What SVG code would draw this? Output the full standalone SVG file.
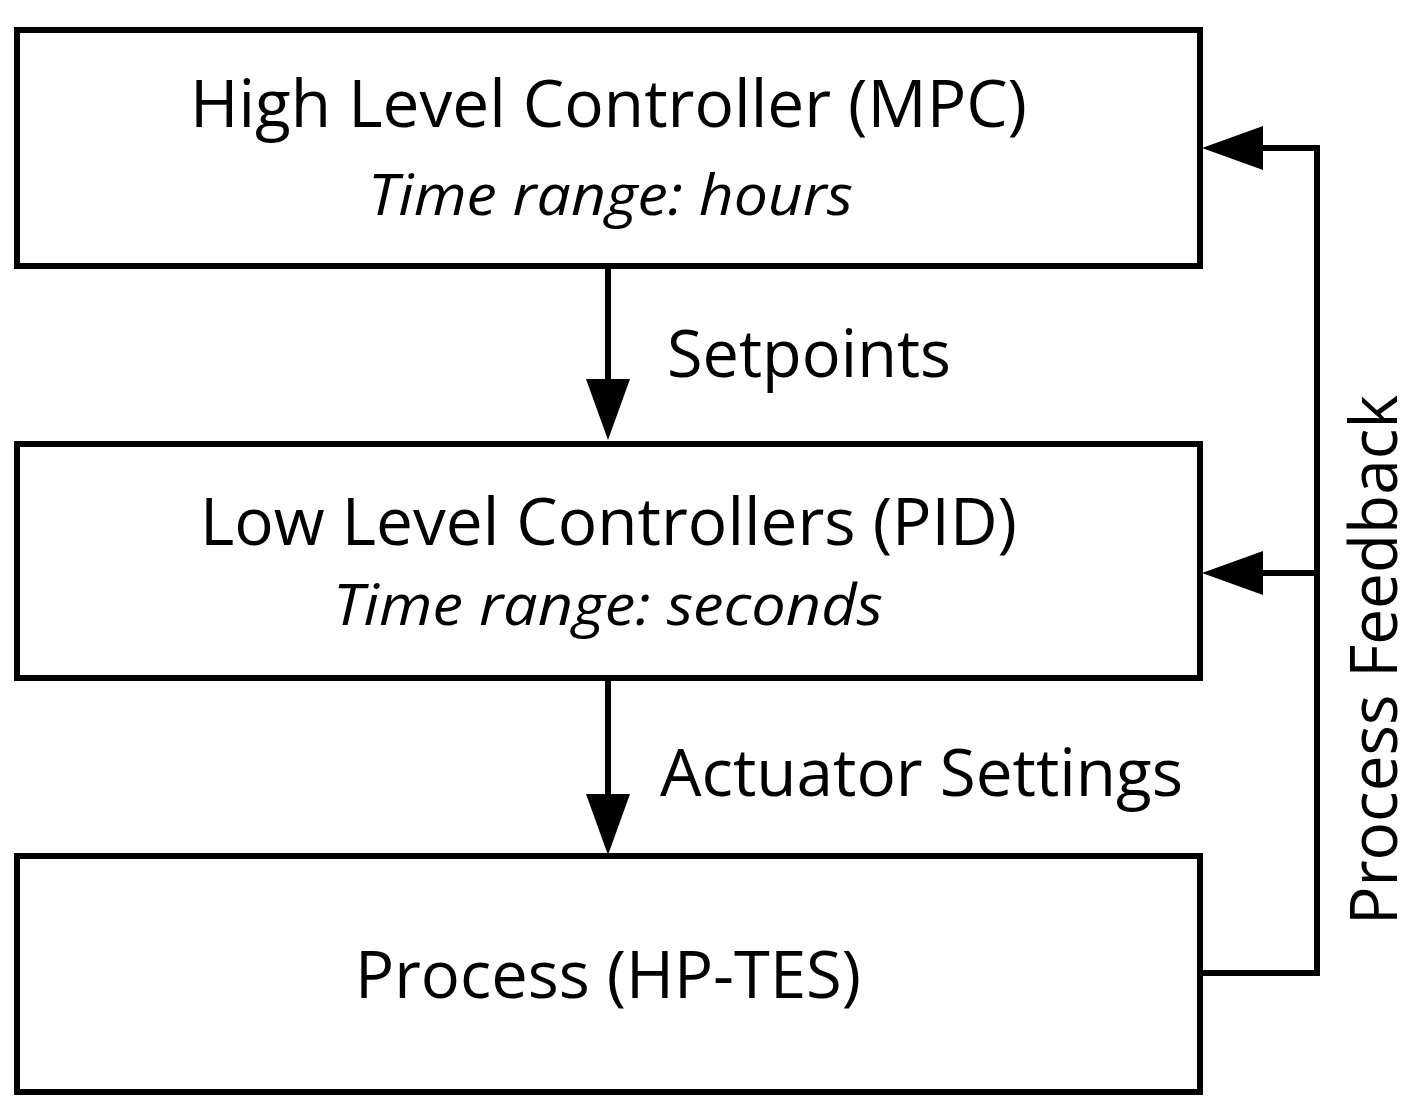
<svg xmlns="http://www.w3.org/2000/svg" width="1427" height="1112" viewBox="0 0 1427 1112">
<defs>
<style>
.box{fill:#fff;stroke:#000;stroke-width:6}
.conn{fill:none;stroke:#000;stroke-width:6;stroke-linejoin:miter}
.t{font-family:"Open Sans","Noto Sans","Liberation Sans",sans-serif;font-size:66px;fill:#000}
.i{font-family:"Open Sans","Noto Sans","Liberation Sans",sans-serif;font-size:56px;font-style:italic;fill:#000}
</style>
<marker id="ah" viewBox="0 0 61 44" refX="0" refY="22" markerWidth="61" markerHeight="44" markerUnits="userSpaceOnUse" orient="auto">
<path d="M0,0 L61,22 L0,44 Z" fill="#000"/>
</marker>
</defs>
<rect width="1427" height="1112" fill="#fff"/>
<g id="connectors">
<path class="conn" d="M608,266 V379" marker-end="url(#ah)"/>
<path class="conn" d="M608,678 V794" marker-end="url(#ah)"/>
<path class="conn" d="M1200,973 H1317 V148 H1263" marker-end="url(#ah)"/>
<path class="conn" d="M1317,573 H1263" marker-end="url(#ah)"/>
<text class="t" x="667" y="377" textLength="284" lengthAdjust="spacingAndGlyphs">Setpoints</text>
<text class="t" x="660" y="796" textLength="523" lengthAdjust="spacingAndGlyphs">Actuator Settings</text>
<text class="t" transform="translate(1397,925) rotate(-90)" x="0" y="0" textLength="530" lengthAdjust="spacingAndGlyphs">Process Feedback</text>
</g>
<g id="high-level">
<rect class="box" x="17" y="30" width="1183" height="236"/>
<text class="t" x="190" y="127" textLength="837" lengthAdjust="spacingAndGlyphs">High Level Controller (MPC)</text>
<text class="i" x="368" y="215" textLength="485" lengthAdjust="spacingAndGlyphs">Time range: hours</text>
</g>
<g id="low-level">
<rect class="box" x="17" y="444" width="1183" height="234"/>
<text class="t" x="200" y="545" textLength="817" lengthAdjust="spacingAndGlyphs">Low Level Controllers (PID)</text>
<text class="i" x="333" y="625" textLength="550" lengthAdjust="spacingAndGlyphs">Time range: seconds</text>
</g>
<g id="process">
<rect class="box" x="17" y="856" width="1183" height="236"/>
<text class="t" x="355" y="998" textLength="506" lengthAdjust="spacingAndGlyphs">Process (HP-TES)</text>
</g>
</svg>
